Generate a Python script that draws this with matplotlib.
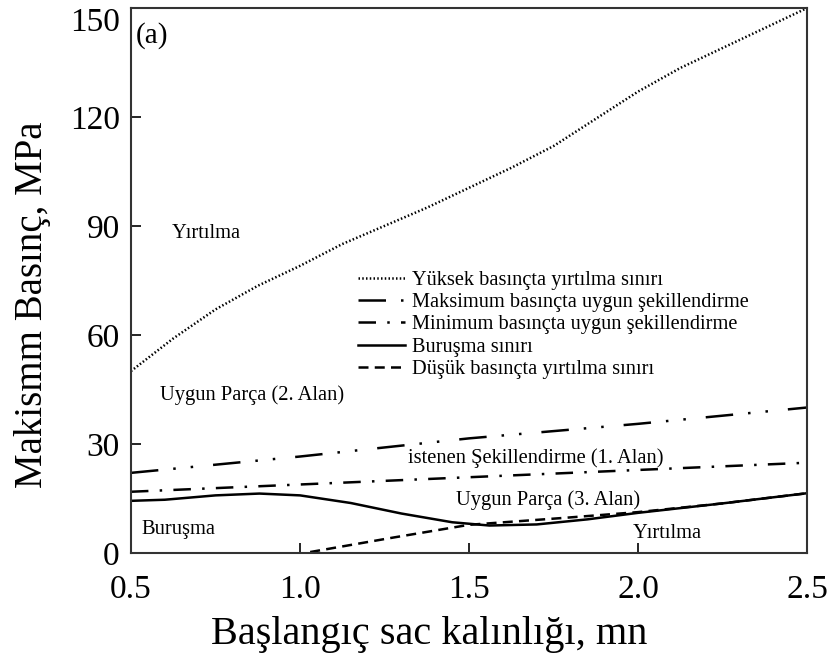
import numpy as np
import matplotlib.pyplot as plt

plt.rcParams['font.family'] = ['Liberation Serif', 'DejaVu Serif']

# sheet thickness (mm) and pressure limits (MPa)
x_high = [0.5, 0.625, 0.75, 0.875, 1.0, 1.125, 1.25, 1.375, 1.5, 1.625, 1.75, 1.875, 2.0, 2.125, 2.25, 2.375, 2.5]
y_high = [50, 59, 67, 73.5, 79, 85, 90, 95, 100.5, 106, 112, 119.5, 127, 133.5, 139, 144.5, 150]

x_max = [0.5, 1.0, 1.5, 2.0, 2.5]
y_max = [22, 26.5, 31.5, 35.5, 40]

x_min = [0.5, 1.0, 1.5, 2.0, 2.5]
y_min = [16.8, 18.8, 20.8, 22.8, 24.8]

x_wrinkle = [0.5, 0.6, 0.75, 0.88, 1.0, 1.15, 1.3, 1.45, 1.56, 1.7, 1.85, 2.0, 2.25, 2.5]
y_wrinkle = [14.3, 14.6, 15.8, 16.3, 15.8, 13.7, 10.8, 8.4, 7.5, 7.8, 9.2, 11.0, 13.6, 16.4]

x_low = [1.03, 1.27, 1.5, 1.78, 2.0, 2.25, 2.5]
y_low = [0.2, 4.1, 7.7, 9.6, 11.2, 13.6, 16.4]

labels = ['Yüksek basınçta yırtılma sınırı',
          'Maksimum basınçta uygun şekillendirme',
          'Minimum basınçta uygun şekillendirme',
          'Buruşma sınırı',
          'Düşük basınçta yırtılma sınırı']

fig = plt.figure(figsize=(8.34, 6.62), dpi=100)
ax = fig.add_axes([0.157, 0.165, 0.811, 0.823])

lw = 1.8
ax.plot(x_high, y_high, color='black', lw=lw, linestyle=(0, (0.6, 0.9)), label=labels[0])
ax.plot(x_max, y_max, color='black', lw=lw,
        linestyle=(0, (11, 6, 1, 6, 1, 8)), label=labels[1])
ax.plot(x_min, y_min, color='black', lw=lw,
        linestyle=(0, (7, 4.5, 1, 4.5)), label=labels[2])
ax.plot(x_wrinkle, y_wrinkle, color='black', lw=lw, linestyle='-', label=labels[3])
ax.plot(x_low, y_low, color='black', lw=lw, linestyle=(0, (4, 2.5)), label=labels[4])

ax.set_xlim(0.5, 2.5)
ax.set_ylim(0, 150)
ax.set_xticks([0.5, 1.0, 1.5, 2.0, 2.5])
ax.set_yticks([0, 30, 60, 90, 120, 150])
ax.tick_params(direction='in', length=7, width=1.2, labelsize=24, pad=8)
ax.tick_params(axis='x', pad=16)
ax.get_yticklabels()[-1].set_va('top')
for s in ax.spines.values():
    s.set_linewidth(1.5)
    s.set_color('#333333')

ax.set_xlabel('Başlangıç sac kalınlığı, mn', fontsize=29)
ax.xaxis.set_label_coords(0.4416, -0.1156)
ax.set_ylabel('Makismm Basınç, MPa', fontsize=28)
ax.yaxis.set_label_coords(-0.118, 0.455)

ax.text(0.515, 146, '(a)', fontsize=21, va='top')
fs = 14.8
ax.text(0.62, 88, 'Yırtılma', fontsize=fs, va='center')
ax.text(0.585, 43.5, 'Uygun Parça (2. Alan)', fontsize=fs, va='center')
ax.text(1.32, 26, 'istenen Şekillendirme (1. Alan)', fontsize=fs, va='center')
ax.text(1.46, 14.6, 'Uygun Parça (3. Alan)', fontsize=fs, va='center')
ax.text(0.53, 6.5, 'Buruşma', fontsize=fs, va='center')
ax.text(1.985, 5.2, 'Yırtılma', fontsize=fs, va='center')

ax.legend(loc='upper left', bbox_to_anchor=(0.32, 0.537), frameon=False,
          fontsize=14.7, handlelength=2.3, handletextpad=0.35,
          labelspacing=0.15, borderpad=0)

fig.savefig('out.png', dpi=100)
